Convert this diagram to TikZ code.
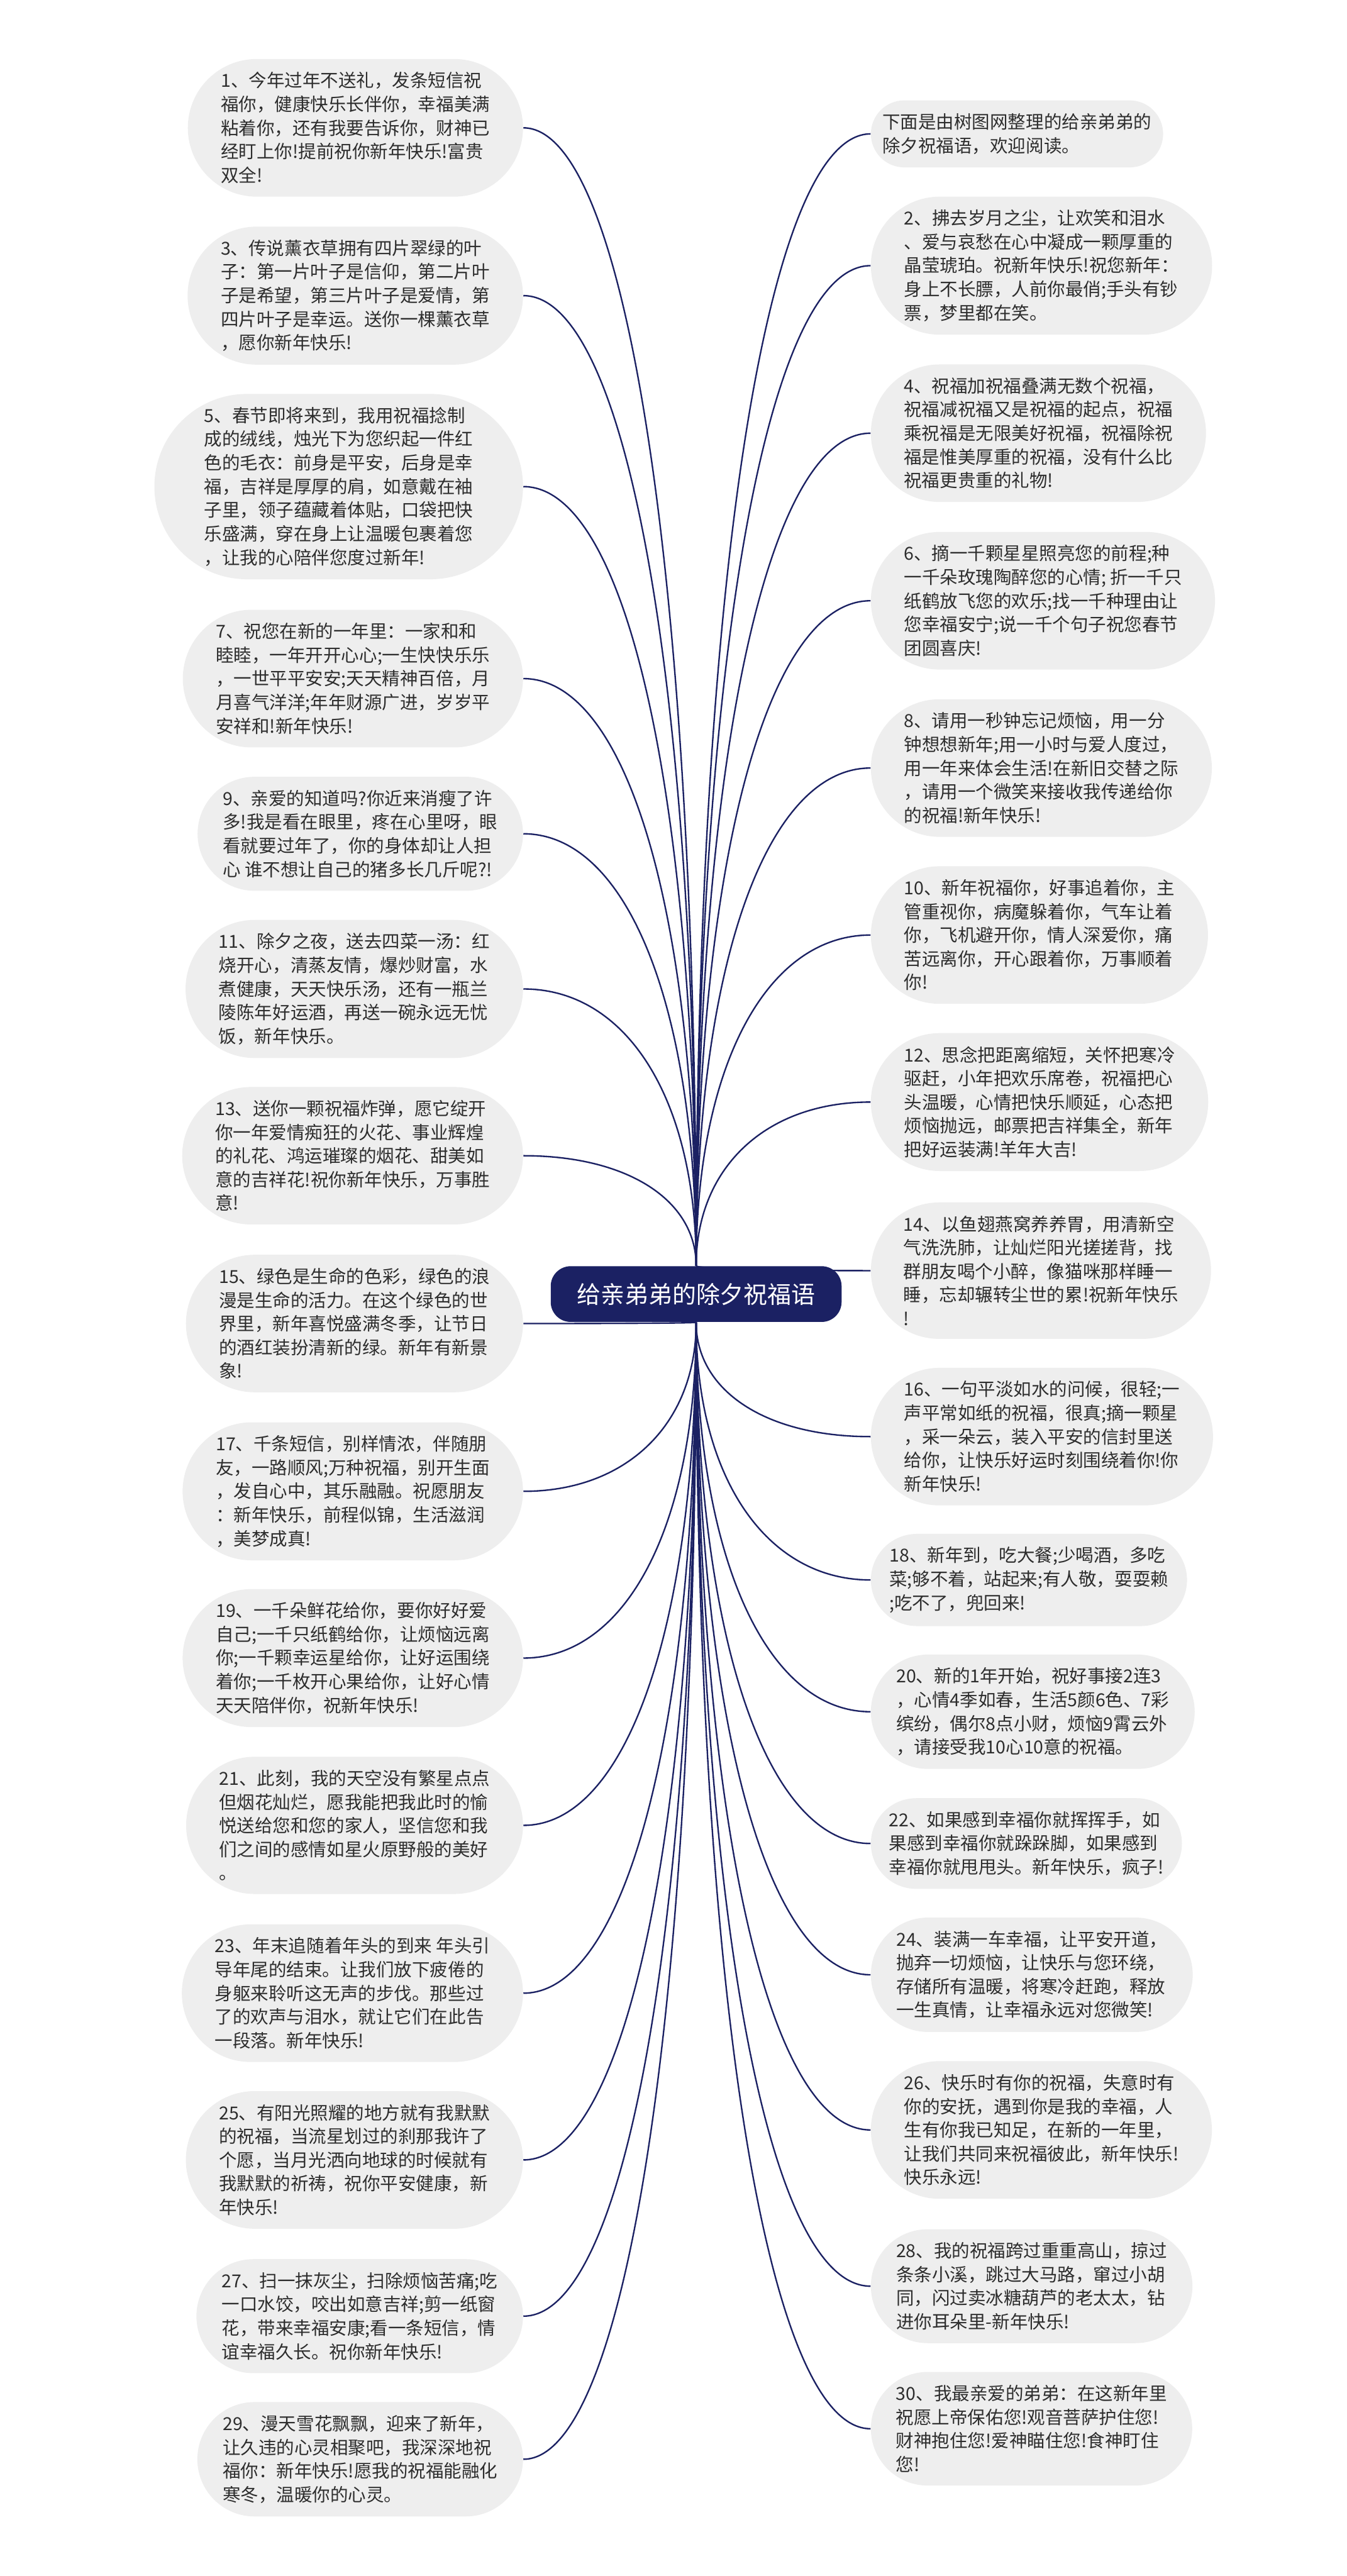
\documentclass[tikz,border=0pt]{standalone}
\usepackage{fontspec}
\usepackage{xcolor}
\usepackage{tikz}
\usetikzlibrary{shapes.misc,calc,backgrounds}
\newfontfamily\cjk{Noto Sans CJK SC}
\definecolor{navy}{RGB}{27,33,99}
\definecolor{bubble}{RGB}{238,238,238}
\definecolor{ink}{RGB}{45,45,45}

\begin{document}
\begin{tikzpicture}[
  wish/.style={rounded rectangle,fill=bubble,inner xsep=0.09cm,inner ysep=0.25cm,font=\cjk\fontsize{9.7pt}{12.8pt}\selectfont,text=ink,align=left},
  wishL/.style={wish,anchor=east},
  wishR/.style={wish,anchor=west},
  hub/.style={rectangle,rounded corners=0.38cm,fill=navy,text=white,minimum width=5.53cm,minimum height=1.06cm,font=\cjk\fontsize{12.9pt}{15pt}\selectfont},
  link/.style={draw=navy,line width=0.8pt}
]

% Root
\node[hub] (root) at (13.235,-24.60) {给亲弟弟的除夕祝福语};

% Left column
\node[wishL] (w1) at (9.95,-2.43) {1、今年过年不送礼，发条短信祝\\福你，健康快乐长伴你，幸福美满\\粘着你，还有我要告诉你，财神已\\经盯上你!提前祝你新年快乐!富贵\\双全!};
\node[wishL] (w3) at (9.95,-5.62) {3、传说薰衣草拥有四片翠绿的叶\\子：第一片叶子是信仰，第二片叶\\子是希望，第三片叶子是爱情，第\\四片叶子是幸运。送你一棵薰衣草\\，愿你新年快乐!};
\node[wishL] (w5) at (9.95,-9.25) {5、春节即将来到，我用祝福捻制\\成的绒线，烛光下为您织起一件红\\色的毛衣：前身是平安，后身是幸\\福，吉祥是厚厚的肩，如意戴在袖\\子里，领子蕴藏着体贴，口袋把快\\乐盛满，穿在身上让温暖包裹着您\\，让我的心陪伴您度过新年!};
\node[wishL] (w7) at (9.95,-12.90) {7、祝您在新的一年里：一家和和\\睦睦，一年开开心心;一生快快乐乐\\，一世平平安安;天天精神百倍，月\\月喜气洋洋;年年财源广进，岁岁平\\安祥和!新年快乐!};
\node[wishL] (w9) at (9.95,-15.85) {9、亲爱的知道吗?你近来消瘦了许\\多!我是看在眼里，疼在心里呀，眼\\看就要过年了，你的身体却让人担\\心 谁不想让自己的猪多长几斤呢?!};
\node[wishL] (w11) at (9.95,-18.80) {11、除夕之夜，送去四菜一汤：红\\烧开心，清蒸友情，爆炒财富，水\\煮健康，天天快乐汤，还有一瓶兰\\陵陈年好运酒，再送一碗永远无忧\\饭，新年快乐。};
\node[wishL] (w13) at (9.95,-21.97) {13、送你一颗祝福炸弹，愿它绽开\\你一年爱情痴狂的火花、事业辉煌\\的礼花、鸿运璀璨的烟花、甜美如\\意的吉祥花!祝你新年快乐，万事胜\\意!};
\node[wishL] (w15) at (9.95,-25.16) {15、绿色是生命的色彩，绿色的浪\\漫是生命的活力。在这个绿色的世\\界里，新年喜悦盛满冬季，让节日\\的酒红装扮清新的绿。新年有新景\\象!};
\node[wishL] (w17) at (9.95,-28.35) {17、千条短信，别样情浓，伴随朋\\友，一路顺风;万种祝福，别开生面\\，发自心中，其乐融融。祝愿朋友\\：新年快乐，前程似锦，生活滋润\\，美梦成真!};
\node[wishL] (w19) at (9.95,-31.52) {19、一千朵鲜花给你，要你好好爱\\自己;一千只纸鹤给你，让烦恼远离\\你;一千颗幸运星给你，让好运围绕\\着你;一千枚开心果给你，让好心情\\天天陪伴你，祝新年快乐!};
\node[wishL] (w21) at (9.95,-34.70) {21、此刻，我的天空没有繁星点点\\但烟花灿烂，愿我能把我此时的愉\\悦送给您和您的家人，坚信您和我\\们之间的感情如星火原野般的美好\\。};
\node[wishL] (w23) at (9.95,-37.89) {23、年末追随着年头的到来 年头引\\导年尾的结束。让我们放下疲倦的\\身躯来聆听这无声的步伐。那些过\\了的欢声与泪水，就让它们在此告\\一段落。新年快乐!};
\node[wishL] (w25) at (9.95,-41.06) {25、有阳光照耀的地方就有我默默\\的祝福，当流星划过的刹那我许了\\个愿，当月光洒向地球的时候就有\\我默默的祈祷，祝你平安健康，新\\年快乐!};
\node[wishL] (w27) at (9.95,-44.03) {27、扫一抹灰尘，扫除烦恼苦痛;吃\\一口水饺，咬出如意吉祥;剪一纸窗\\花，带来幸福安康;看一条短信，情\\谊幸福久长。祝你新年快乐!};
\node[wishL] (w29) at (9.95,-46.75) {29、漫天雪花飘飘，迎来了新年，\\让久违的心灵相聚吧，我深深地祝\\福你：新年快乐!愿我的祝福能融化\\寒冬，温暖你的心灵。};

% Right column
\node[wishR] (intro) at (16.55,-2.545) {下面是由树图网整理的给亲弟弟的\\除夕祝福语，欢迎阅读。};
\node[wishR] (w2) at (16.55,-5.05) {2、拂去岁月之尘，让欢笑和泪水\\、爱与哀愁在心中凝成一颗厚重的\\晶莹琥珀。祝新年快乐!祝您新年：\\身上不长膘，人前你最俏;手头有钞\\票，梦里都在笑。};
\node[wishR] (w4) at (16.55,-8.235) {4、祝福加祝福叠满无数个祝福，\\祝福减祝福又是祝福的起点，祝福\\乘祝福是无限美好祝福，祝福除祝\\福是惟美厚重的祝福，没有什么比\\祝福更贵重的礼物!};
\node[wishR] (w6) at (16.55,-11.42) {6、摘一千颗星星照亮您的前程;种\\一千朵玫瑰陶醉您的心情; 折一千只\\纸鹤放飞您的欢乐;找一千种理由让\\您幸福安宁;说一千个句子祝您春节\\团圆喜庆!};
\node[wishR] (w8) at (16.55,-14.60) {8、请用一秒钟忘记烦恼，用一分\\钟想想新年;用一小时与爱人度过，\\用一年来体会生活!在新旧交替之际\\，请用一个微笑来接收我传递给你\\的祝福!新年快乐!};
\node[wishR] (w10) at (16.55,-17.775) {10、新年祝福你，好事追着你，主\\管重视你，病魔躲着你，气车让着\\你，飞机避开你，情人深爱你，痛\\苦远离你，开心跟着你，万事顺着\\你!};
\node[wishR] (w12) at (16.55,-20.95) {12、思念把距离缩短，关怀把寒冷\\驱赶，小年把欢乐席卷，祝福把心\\头温暖，心情把快乐顺延，心态把\\烦恼抛远，邮票把吉祥集全，新年\\把好运装满!羊年大吉!};
\node[wishR] (w14) at (16.55,-24.155) {14、以鱼翅燕窝养养胃，用清新空\\气洗洗肺，让灿烂阳光搓搓背，找\\群朋友喝个小醉，像猫咪那样睡一\\睡，忘却辗转尘世的累!祝新年快乐\\!};
\node[wishR] (w16) at (16.55,-27.31) {16、一句平淡如水的问候，很轻;一\\声平常如纸的祝福，很真;摘一颗星\\，采一朵云，装入平安的信封里送\\给你，让快乐好运时刻围绕着你!你\\新年快乐!};
\node[wishR] (w18) at (16.55,-30.035) {18、新年到，吃大餐;少喝酒，多吃\\菜;够不着，站起来;有人敬，耍耍赖\\;吃不了，兜回来!};
\node[wishR] (w20) at (16.55,-32.54) {20、新的1年开始，祝好事接2连3\\，心情4季如春，生活5颜6色、7彩\\缤纷，偶尔8点小财，烦恼9霄云外\\，请接受我10心10意的祝福。};
\node[wishR] (w22) at (16.55,-35.045) {22、如果感到幸福你就挥挥手，如\\果感到幸福你就跺跺脚，如果感到\\幸福你就甩甩头。新年快乐，疯子!};
\node[wishR] (w24) at (16.55,-37.54) {24、装满一车幸福，让平安开道，\\抛弃一切烦恼，让快乐与您环绕，\\存储所有温暖，将寒冷赶跑，释放\\一生真情，让幸福永远对您微笑!};
\node[wishR] (w26) at (16.55,-40.49) {26、快乐时有你的祝福，失意时有\\你的安抚，遇到你是我的幸福，人\\生有你我已知足，在新的一年里，\\让我们共同来祝福彼此，新年快乐!\\快乐永远!};
\node[wishR] (w28) at (16.55,-43.46) {28、我的祝福跨过重重高山，掠过\\条条小溪，跳过大马路，窜过小胡\\同，闪过卖冰糖葫芦的老太太，钻\\进你耳朵里-新年快乐!};
\node[wishR] (w30) at (16.55,-46.17) {30、我最亲爱的弟弟：在这新年里\\祝愿上帝保佑您!观音菩萨护住您!\\财神抱住您!爱神瞄住您!食神盯住\\您!};

% Links
\begin{scope}[on background layer]
\fill[white] (0,0) rectangle (25.6,-48.97);
\foreach \w in {w1,w3,w5,w7,w9,w11,w13}
  \draw[link] (root.north) .. controls ($(root.north)!0.6!(root.north|-\w.east)$) and ($(\w.east)!0.6!(root.north|-\w.east)$) .. (\w.east);
\foreach \w in {w15,w17,w19,w21,w23,w25,w27,w29}
  \draw[link] (root.south) .. controls ($(root.south)!0.6!(root.south|-\w.east)$) and ($(\w.east)!0.6!(root.south|-\w.east)$) .. (\w.east);
\foreach \w in {intro,w2,w4,w6,w8,w10,w12,w14}
  \draw[link] (root.north) .. controls ($(root.north)!0.6!(root.north|-\w.west)$) and ($(\w.west)!0.6!(root.north|-\w.west)$) .. (\w.west);
\foreach \w in {w16,w18,w20,w22,w24,w26,w28,w30}
  \draw[link] (root.south) .. controls ($(root.south)!0.6!(root.south|-\w.west)$) and ($(\w.west)!0.6!(root.south|-\w.west)$) .. (\w.west);
\end{scope}

\end{tikzpicture}
\end{document}
